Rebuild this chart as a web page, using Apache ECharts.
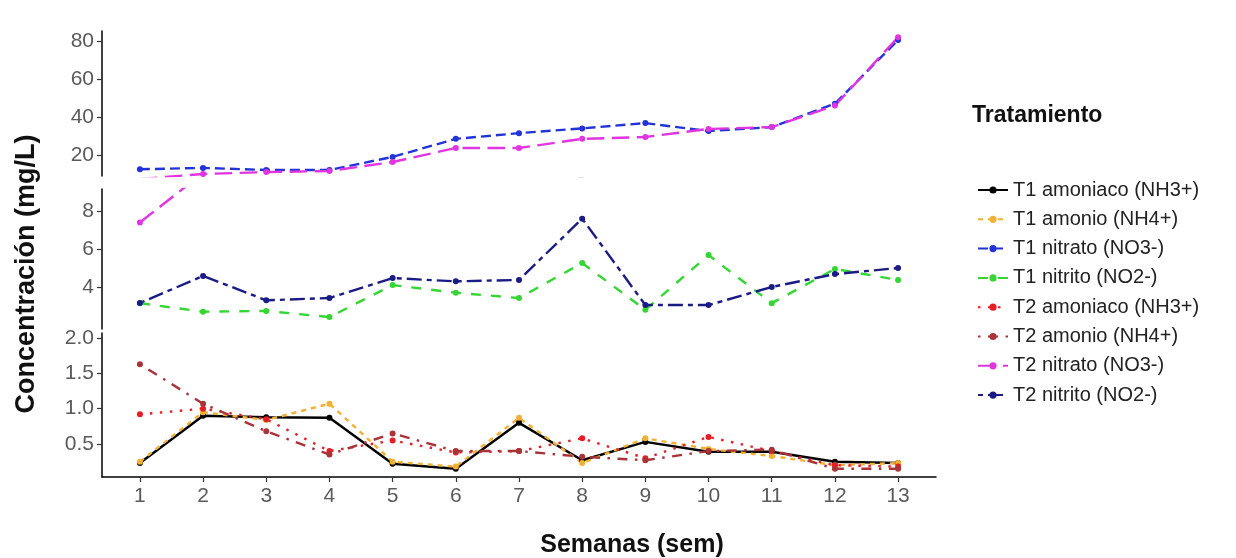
<!DOCTYPE html>
<html><head><meta charset="utf-8">
<script src="https://cdn.jsdelivr.net/npm/echarts@6/dist/echarts.min.js"></script>
<style>html,body{margin:0;padding:0;background:#fff}#c{width:1236px;height:558px}</style>
</head><body><div id="c"></div>
<script>
// ---- data ----
const weeks = [1,2,3,4,5,6,7,8,9,10,11,12,13];
const seriesNames = ['T1 amoniaco (NH3+)','T1 amonio (NH4+)','T1 nitrato (NO3-)','T1 nitrito (NO2-)',
                     'T2 amoniaco (NH3+)','T2 amonio (NH4+)','T2 nitrato (NO3-)','T2 nitrito (NO2-)'];
const t1Amoniaco = [0.23,0.90,0.88,0.87,0.22,0.15,0.80,0.27,0.53,0.39,0.39,0.25,0.23];
const t1Amonio   = [0.25,0.95,0.84,1.07,0.25,0.18,0.87,0.23,0.58,0.43,0.33,0.20,0.23];
const t1Nitrato  = [12.5,13.2,12.1,12.1,19.0,28.5,31.5,34.0,36.8,32.6,34.7,47.0,80.5];
const t1Nitrito  = [3.15,2.70,2.74,2.42,4.10,3.70,3.42,5.26,2.80,5.68,3.15,4.95,4.37];
const t2Amoniaco = [0.92,1.00,0.85,0.40,0.55,0.38,0.40,0.58,0.30,0.60,0.40,0.20,0.18];
const t2Amonio   = [1.63,1.07,0.68,0.35,0.65,0.40,0.40,0.32,0.27,0.40,0.42,0.15,0.15];
const t2Nitrato  = [7.4,10.0,11.0,11.6,16.3,23.7,23.7,28.5,29.5,33.7,34.7,46.0,82.0];
const t2Nitrito  = [3.16,4.58,3.30,3.42,4.47,4.30,4.37,7.60,3.05,3.05,4.00,4.68,5.00];
const xTicks   = [1,2,3,4,5,6,7,8,9,10,11,12,13];
const topTicks = [20,40,60,80];
const midTicks = [4,6,8];
const lowTicks = [0.5,1.0,1.5,2.0];

// ---- styles ----
const FONT = "'Liberation Sans', Arial, Helvetica, sans-serif";
const values = [t1Amoniaco,t1Amonio,t1Nitrato,t1Nitrito,t2Amoniaco,t2Amonio,t2Nitrato,t2Nitrito];
const u = 2.5;
const looks = [
  {color:'#000000', dash:'solid'},
  {color:'#F2B134', dash:[2*u,2*u]},
  {color:'#2233D8', dash:[4*u,2*u]},
  {color:'#33D633', dash:[4*u,4*u]},
  {color:'#E51E25', dash:[1*u,3*u]},
  {color:'#A8343A', dash:[1*u,3*u,4*u,3*u]},
  {color:'#E035E0', dash:[7*u,3*u]},
  {color:'#1B1B85', dash:[2*u,2*u,6*u,2*u]}
];
const panels = [
  {top:31,  height:145, min:8.95,  max:85.26, ticks:topTicks, dec:0},
  {top:189, height:140, min:1.79,  max:9.16,  ticks:midTicks, dec:0},
  {top:333, height:144, min:0.033, max:2.071, ticks:lowTicks, dec:1}
];

const grid = [], xAxis = [], yAxis = [], series = [];
panels.forEach((p, g) => {
  const isBottom = g === panels.length - 1;
  grid.push({left:102, width:834, top:p.top, height:p.height});
  xAxis.push({
    type:'value', gridIndex:g, min:0.4, max:13.6, show:isBottom,
    axisLine:{show:true, onZero:false, lineStyle:{color:'#000', width:1.5}},
    axisTick:{show:true, length:5, customValues:xTicks, lineStyle:{color:'#333', width:1.2}},
    axisLabel:{customValues:xTicks, margin:9, fontSize:21, color:'#5a5a5a', fontFamily:FONT},
    splitLine:{show:false}
  });
  yAxis.push({
    type:'value', gridIndex:g, min:p.min, max:p.max,
    axisLine:{show:true, onZero:false, lineStyle:{color:'#000', width:1.5}},
    axisTick:{show:true, length:5, customValues:p.ticks, lineStyle:{color:'#333', width:1.2}},
    axisLabel:{customValues:p.ticks, margin:8, fontSize:21, color:'#5a5a5a', fontFamily:FONT,
               formatter:v => Number(v).toFixed(p.dec)},
    splitLine:{show:false}
  });
  seriesNames.forEach((name, s) => {
    series.push({
      type:'line', name, xAxisIndex:g, yAxisIndex:g, clip:true,
      data: weeks.map((w, i) => [w, values[s][i]]),
      symbol:'circle', symbolSize:6, showSymbol:true,
      lineStyle:{color:looks[s].color, width: s === 0 ? 2.5 : 2.4, type:looks[s].dash, cap:'butt'},
      itemStyle:{color:looks[s].color},
      emphasis:{disabled:true}
    });
  });
});

const chart = echarts.init(document.getElementById('c'), null, {renderer:'canvas'});
chart.setOption({
  animation:false,
  backgroundColor:'#fff',
  grid, xAxis, yAxis, series,
  legend:{
    data:seriesNames, orient:'vertical', left:972, top:175,
    itemWidth:30, itemHeight:9, itemGap:9.3,
    textStyle:{fontSize:20, color:'#222', fontFamily:FONT}
  },
  graphic:[
    {type:'text', x:972, y:116, style:{text:'Tratamiento', fontSize:23, fontWeight:'bold', fontFamily:FONT,
      fill:'#111', align:'left', verticalAlign:'middle'}},
    {type:'text', x:632, y:545, style:{text:'Semanas (sem)', fontSize:25, fontWeight:'bold', fontFamily:FONT,
      fill:'#111', align:'center', verticalAlign:'middle'}},
    {type:'text', x:27, y:274, rotation:Math.PI/2, style:{text:'Concentración (mg/L)', fontSize:27, fontWeight:'bold',
      fontFamily:FONT, fill:'#111', align:'center', verticalAlign:'middle'}}
  ]
});
</script></body></html>
